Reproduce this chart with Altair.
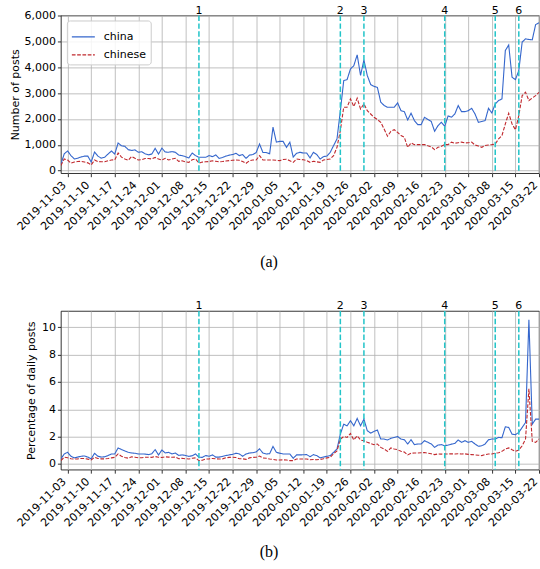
import altair as alt
import pandas as pd
from datetime import date, datetime, timedelta, timezone

START = "2019-11-01"
END = "2020-03-22"
N_DAYS = 143
dates = [(date(2019, 11, 1) + timedelta(days=i)).isoformat() for i in range(N_DAYS)]

week_ticks = ["2019-11-03", "2019-11-10", "2019-11-17", "2019-11-24", "2019-12-01",
              "2019-12-08", "2019-12-15", "2019-12-22", "2019-12-29", "2020-01-05",
              "2020-01-12", "2020-01-19", "2020-01-26", "2020-02-02", "2020-02-09",
              "2020-02-16", "2020-02-23", "2020-03-01", "2020-03-08", "2020-03-15",
              "2020-03-22"]

event_dates = ["2019-12-12", "2020-01-23", "2020-01-30", "2020-02-23", "2020-03-09", "2020-03-16"]
event_labels = ["1", "2", "3", "4", "5", "6"]

SERIES = ["china", "chinese"]

# (a) number of posts per day
china_posts = [
    250, 650, 760, 580, 450, 480, 530, 560, 560, 330,
    720, 560, 480, 520, 640, 760, 640, 1070, 960, 940,
    810, 780, 800, 710, 730, 650, 610, 640, 860, 640,
    870, 720, 710, 735, 710, 600, 580, 540, 490, 680,
    580, 515, 515, 515, 580, 540, 605, 475, 510, 560,
    600, 620, 670, 580, 620, 475, 600, 620, 700, 1030,
    700, 700, 650, 1680, 1100, 1130, 1130, 900, 1100, 520,
    670, 710, 680, 680, 490, 710, 620, 450, 540, 565,
    710, 970, 1225, 2300, 3480, 3520, 3930, 4060, 4480, 3680,
    4280, 3680, 3330, 3260, 3220, 2650, 2520, 2450, 2450, 2450,
    2620, 2320, 2280, 1960, 2220, 1935, 1780, 1780, 2065, 1975,
    1900, 1520, 1740, 1870, 1715, 2115, 2065, 2190, 2515, 2280,
    2280, 2320, 2410, 2190, 1870, 1900, 1935, 2410, 2230, 2580,
    2710, 2775, 4645, 4860, 3610, 3520, 3870, 4970, 5100, 5070,
    5060, 5650, 5720]
chinese_posts = [
    195, 450, 410, 290, 330, 350, 360, 330, 300, 220,
    410, 350, 340, 340, 380, 410, 420, 680, 520, 450,
    400, 550, 475, 410, 425, 470, 470, 450, 510, 450,
    410, 475, 410, 450, 475, 360, 380, 340, 320, 420,
    450, 290, 330, 340, 350, 380, 360, 340, 350, 370,
    385, 400, 410, 400, 350, 285, 380, 410, 410, 580,
    410, 410, 410, 410, 400, 385, 430, 440, 385, 320,
    450, 430, 420, 385, 320, 360, 340, 320, 410, 430,
    450, 580, 900, 1550, 2450, 2450, 2775, 2480, 2800, 2385,
    2580, 2320, 2190, 2065, 1975, 1870, 1610, 1330, 1520, 1585,
    1480, 1355, 1290, 900, 1070, 1005, 1005, 1005, 1005, 960,
    920, 810, 900, 940, 1005, 1005, 1100, 1060, 1080, 1100,
    1070, 1080, 1100, 990, 950, 900, 970, 990, 1005, 1030,
    1225, 1355, 1805, 2220, 1805, 1575, 2130, 2900, 3030, 2710,
    2810, 2900, 3030]

# (b) percentage of daily posts
china_pct = [
    0.37, 0.73, 0.85, 0.56, 0.44, 0.50, 0.56, 0.58, 0.50, 0.37,
    0.78, 0.56, 0.50, 0.52, 0.61, 0.73, 0.73, 1.17, 1.05, 0.95,
    0.85, 0.80, 0.78, 0.73, 0.73, 0.72, 0.68, 0.75, 1.05, 0.65,
    1.02, 0.80, 0.85, 0.73, 0.80, 0.62, 0.66, 0.62, 0.55, 0.60,
    0.73, 0.49, 0.48, 0.61, 0.56, 0.66, 0.50, 0.50, 0.55, 0.61,
    0.66, 0.70, 0.78, 0.73, 0.56, 0.73, 0.80, 0.82, 0.88, 1.10,
    0.80, 0.73, 0.75, 1.28, 0.85, 0.78, 0.73, 0.73, 0.73, 0.41,
    0.66, 0.66, 0.67, 0.68, 0.53, 0.68, 0.61, 0.44, 0.50, 0.56,
    0.61, 0.85, 1.09, 2.18, 2.91, 2.79, 3.16, 2.79, 3.33, 2.79,
    3.28, 2.43, 2.26, 2.38, 2.48, 1.82, 1.82, 1.75, 1.87, 1.94,
    2.01, 1.82, 1.77, 1.46, 1.77, 1.41, 1.46, 1.46, 1.70, 1.58,
    1.46, 1.21, 1.38, 1.41, 1.33, 1.38, 1.45, 1.50, 1.75, 1.58,
    1.70, 1.58, 1.65, 1.46, 1.29, 1.33, 1.46, 1.77, 1.82, 1.82,
    1.94, 1.92, 2.72, 2.67, 2.18, 2.14, 2.31, 2.67, 3.03, 10.56,
    2.91, 3.28, 3.28]
chinese_pct = [
    0.24, 0.49, 0.45, 0.38, 0.36, 0.37, 0.40, 0.39, 0.35, 0.29,
    0.48, 0.40, 0.37, 0.37, 0.40, 0.44, 0.48, 0.73, 0.56, 0.47,
    0.42, 0.52, 0.49, 0.45, 0.45, 0.49, 0.49, 0.48, 0.54, 0.49,
    0.47, 0.52, 0.50, 0.49, 0.50, 0.38, 0.41, 0.38, 0.36, 0.41,
    0.44, 0.24, 0.27, 0.36, 0.37, 0.40, 0.37, 0.36, 0.37, 0.45,
    0.48, 0.49, 0.47, 0.38, 0.37, 0.33, 0.44, 0.48, 0.49, 0.58,
    0.43, 0.41, 0.36, 0.33, 0.29, 0.29, 0.30, 0.29, 0.24, 0.24,
    0.36, 0.36, 0.36, 0.36, 0.31, 0.32, 0.31, 0.33, 0.38, 0.44,
    0.49, 0.75, 0.95, 1.82, 2.01, 1.94, 2.23, 1.75, 2.06, 1.75,
    1.70, 1.58, 1.50, 1.41, 1.46, 1.21, 1.09, 0.92, 1.17, 1.09,
    1.04, 0.92, 0.87, 0.66, 0.78, 0.80, 0.80, 0.82, 0.83, 0.78,
    0.74, 0.68, 0.73, 0.72, 0.73, 0.73, 0.74, 0.73, 0.74, 0.73,
    0.74, 0.70, 0.68, 0.66, 0.64, 0.61, 0.68, 0.73, 0.73, 0.78,
    0.82, 0.92, 1.09, 1.17, 1.04, 0.92, 1.02, 1.33, 1.82, 5.50,
    1.65, 1.58, 1.82]

BLUE = "#3466cc"
RED = "#c0282d"
CYAN = "#22c4c8"
GRID = "#b0b0b0"
FONT = "DejaVu Sans"


def ms(s):
    y, m, d = map(int, s.split("-"))
    return int(datetime(y, m, d, tzinfo=timezone.utc).timestamp() * 1000)


def panel(china, chinese, ytitle, ydomain, yvalues, yformat, caption, height,
          title_pad, cap_offset):
    df = pd.DataFrame({
        "date": dates + dates,
        "series": ["china"] * N_DAYS + ["chinese"] * N_DAYS,
        "value": china + chinese,
    })
    ev = pd.DataFrame({"date": event_dates, "label": event_labels})

    x = alt.X("date:T", title=None,
              scale=alt.Scale(type="utc", domain=[ms(START), ms(END)]),
              axis=alt.Axis(values=[ms(t) for t in week_ticks],
                            labelExpr="utcFormat(datum.value, '%Y-%m-%d')",
                            labelAngle=-45, labelAlign="right",
                            labelBaseline="bottom", labelPadding=10, labelOverlap=False,
                            labelFlush=False, labelBound=False, domain=False))
    y = alt.Y("value:Q", title=ytitle,
              scale=alt.Scale(domain=ydomain, nice=False, zero=False),
              axis=alt.Axis(values=yvalues, format=yformat, domain=False,
                            titlePadding=title_pad))
    legend = alt.Legend(title=None, orient="none", legendX=6, legendY=5,
                        fillColor="rgba(255,255,255,0.85)", strokeColor="#cccccc",
                        cornerRadius=3, padding=4, symbolType="stroke", symbolSize=530,
                        symbolStrokeWidth=1.3, labelFontSize=11, labelFont=FONT,
                        labelColor="black", labelOffset=8, rowPadding=-9)
    color = alt.Color("series:N", scale=alt.Scale(domain=SERIES, range=[BLUE, RED]),
                      legend=legend)
    dash = alt.StrokeDash("series:N",
                          scale=alt.Scale(domain=SERIES, range=[[1, 0], [3.7, 1.6]]),
                          legend=legend)

    lines = alt.Chart(df).mark_line(strokeWidth=1.1, clip=True).encode(
        x=x, y=y, color=color, strokeDash=dash)
    rules = alt.Chart(ev).mark_rule(color=CYAN, strokeWidth=1.5,
                                    strokeDash=[5.5, 2.4]).encode(x=x)
    texts = alt.Chart(ev).mark_text(baseline="alphabetic", dy=-1.5, fontSize=11,
                                    font=FONT, color="black").encode(
        x=x, y=alt.value(0), text="label:N")
    return alt.layer(lines, rules, texts).properties(
        width=479, height=height,
        title=alt.TitleParams(caption, orient="bottom", anchor="middle", dx=-31,
                              offset=cap_offset, font="Liberation Serif", fontSize=16,
                              fontWeight="normal", color="black"))


pa = panel(china_posts, chinese_posts, "Number of posts", [-100, 6000],
           [0, 1000, 2000, 3000, 4000, 5000, 6000], ",d", "(a)", 158, 3, 22)
pb = panel(china_pct, chinese_pct, "Percentage of daily posts", [-0.42, 11.2],
           [0, 2, 4, 6, 8, 10], "d", "(b)", 159, 5, 16)

chart = alt.vconcat(pa, pb, spacing=29).properties(
    padding={"left": 9, "top": 4, "right": 0, "bottom": 0}
).configure_view(
    stroke="black", strokeWidth=0.8
).configure_axis(
    labelFont=FONT, labelFontSize=11, labelColor="black",
    titleFont=FONT, titleFontSize=11, titleFontWeight="normal", titleColor="black",
    gridColor=GRID, gridWidth=0.8, tickColor="black", tickSize=3.5, tickWidth=0.8,
    labelPadding=2
)

chart.save("out.html", embed_options={"renderer": "svg", "actions": False})
